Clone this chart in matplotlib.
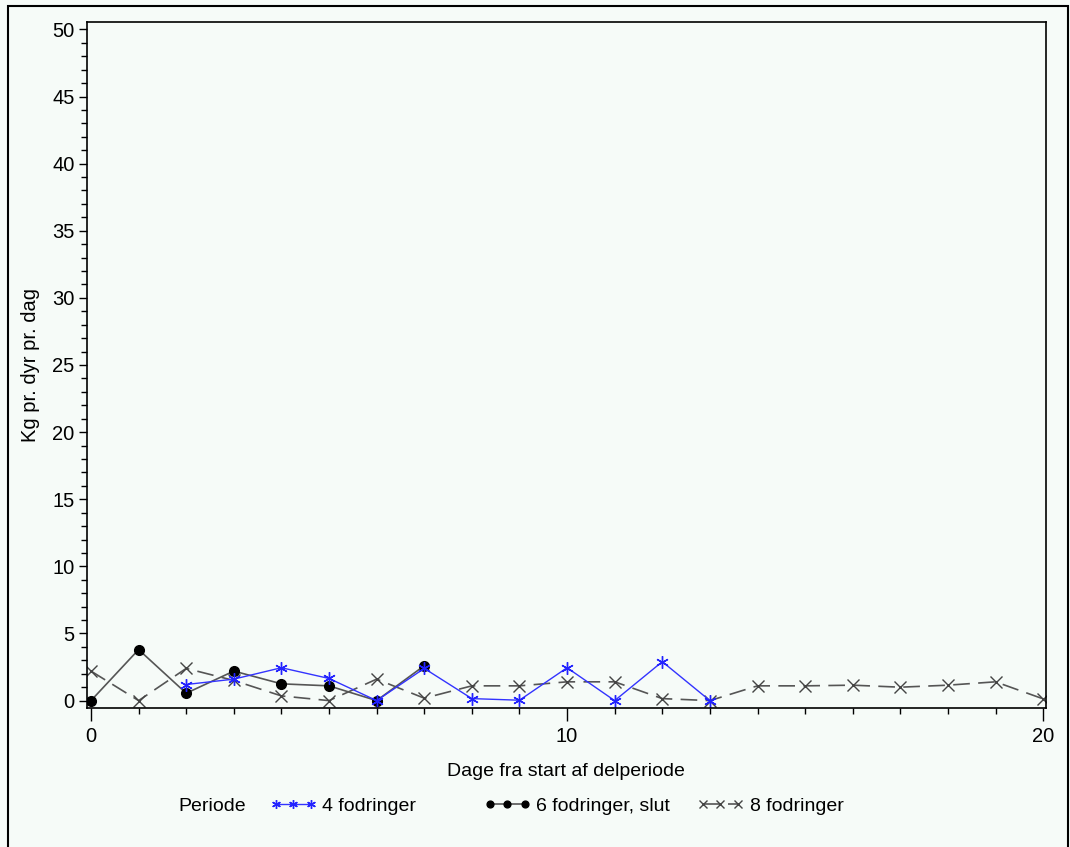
import matplotlib
matplotlib.use("Agg")
import matplotlib.pyplot as plt
from matplotlib.patches import Rectangle
from matplotlib.ticker import MultipleLocator

plt.rcParams['font.family'] = ['Liberation Sans', 'DejaVu Sans']

# Data
days_4 = [2, 3, 4, 5, 6, 7, 8, 9, 10, 11, 12, 13]
kg_4 = [1.2, 1.6, 2.45, 1.65, 0.0, 2.4, 0.15, 0.03, 2.45, 0.0, 2.9, 0.0]

days_6 = [0, 1, 2, 3, 4, 5, 6, 7]
kg_6 = [0.0, 3.8, 0.55, 2.2, 1.25, 1.1, 0.0, 2.6]

days_8 = list(range(0, 21))
kg_8 = [2.2, 0.0, 2.4, 1.5, 0.35, 0.0, 1.6, 0.18, 1.1, 1.1, 1.4, 1.4, 0.15, 0.0,
        1.1, 1.1, 1.15, 1.0, 1.15, 1.4, 0.13]

labels = ['4 fodringer', '6 fodringer, slut', '8 fodringer']
xlabel = 'Dage fra start af delperiode'
ylabel = 'Kg pr. dyr pr. dag'
legend_title = 'Periode'

W, H = 1070, 847
bg = '#F6FBF8'
fs = 14
fig = plt.figure(figsize=(W / 100, H / 100), dpi=100, facecolor=bg)

# outer frame
fig.patches.append(Rectangle((8 / W, 1 - 900 / H), (1068 - 8) / W, (900 - 6) / H,
                             transform=fig.transFigure, fill=False,
                             edgecolor='black', linewidth=1.5))

ax = fig.add_axes([87 / W, 1 - 708 / H, (1046 - 87) / W, (708 - 22) / H])
ax.set_facecolor(bg)

l8, = ax.plot(days_8, kg_8, color='#555555', linewidth=1.2, dashes=(10, 5),
              marker='x', markersize=8, markeredgecolor='#444444',
              markeredgewidth=1.0, label=labels[2])
l6, = ax.plot(days_6, kg_6, color='#555555', linewidth=1.2,
              marker='o', markersize=7, markerfacecolor='black',
              markeredgecolor='black', label=labels[1])
l4, = ax.plot(days_4, kg_4, color='#3333FF', linewidth=1.0,
              marker=(6, 2, 0), markersize=9, markeredgecolor='#2222FF',
              markeredgewidth=1.0, label=labels[0])

ax.set_xlim(-0.084, 20.06)
ax.set_ylim(-0.55, 50.55)
ax.xaxis.set_major_locator(MultipleLocator(10))
ax.xaxis.set_minor_locator(MultipleLocator(1))
ax.yaxis.set_major_locator(MultipleLocator(5))
ax.yaxis.set_minor_locator(MultipleLocator(1))
ax.tick_params(axis='both', which='major', direction='out', length=6, width=1,
               labelsize=14.5, colors='black', pad=3)
ax.tick_params(axis='both', which='minor', direction='out', length=4, width=1)
ax.tick_params(axis='x', which='major', length=9, pad=5)
for s in ax.spines.values():
    s.set_linewidth(1.2)

ax.set_xlabel(xlabel, fontsize=fs)
ax.set_ylabel(ylabel, fontsize=14.5)
ax.xaxis.set_label_coords(0.4995, -0.092)
ax.yaxis.set_label_coords(-0.0594, 0.5)
ax.xaxis.label.set_va('center')
ax.yaxis.label.set_va('center')

# legend
ly = 1 - 806 / H
fig.text(178 / W, ly, legend_title, fontsize=fs, va='center', ha='left')
for handle, lab, x0 in [(l4, labels[0], 270), (l6, labels[1], 484), (l8, labels[2], 697)]:
    fig.legend([handle], [lab], loc='center left', bbox_to_anchor=(x0 / W, ly),
               frameon=False, fontsize=fs, numpoints=3, handlelength=2.4,
               handletextpad=0.3, markerscale=0.7, borderaxespad=0, borderpad=0)

fig.savefig('out.png', dpi=100, facecolor=bg)
